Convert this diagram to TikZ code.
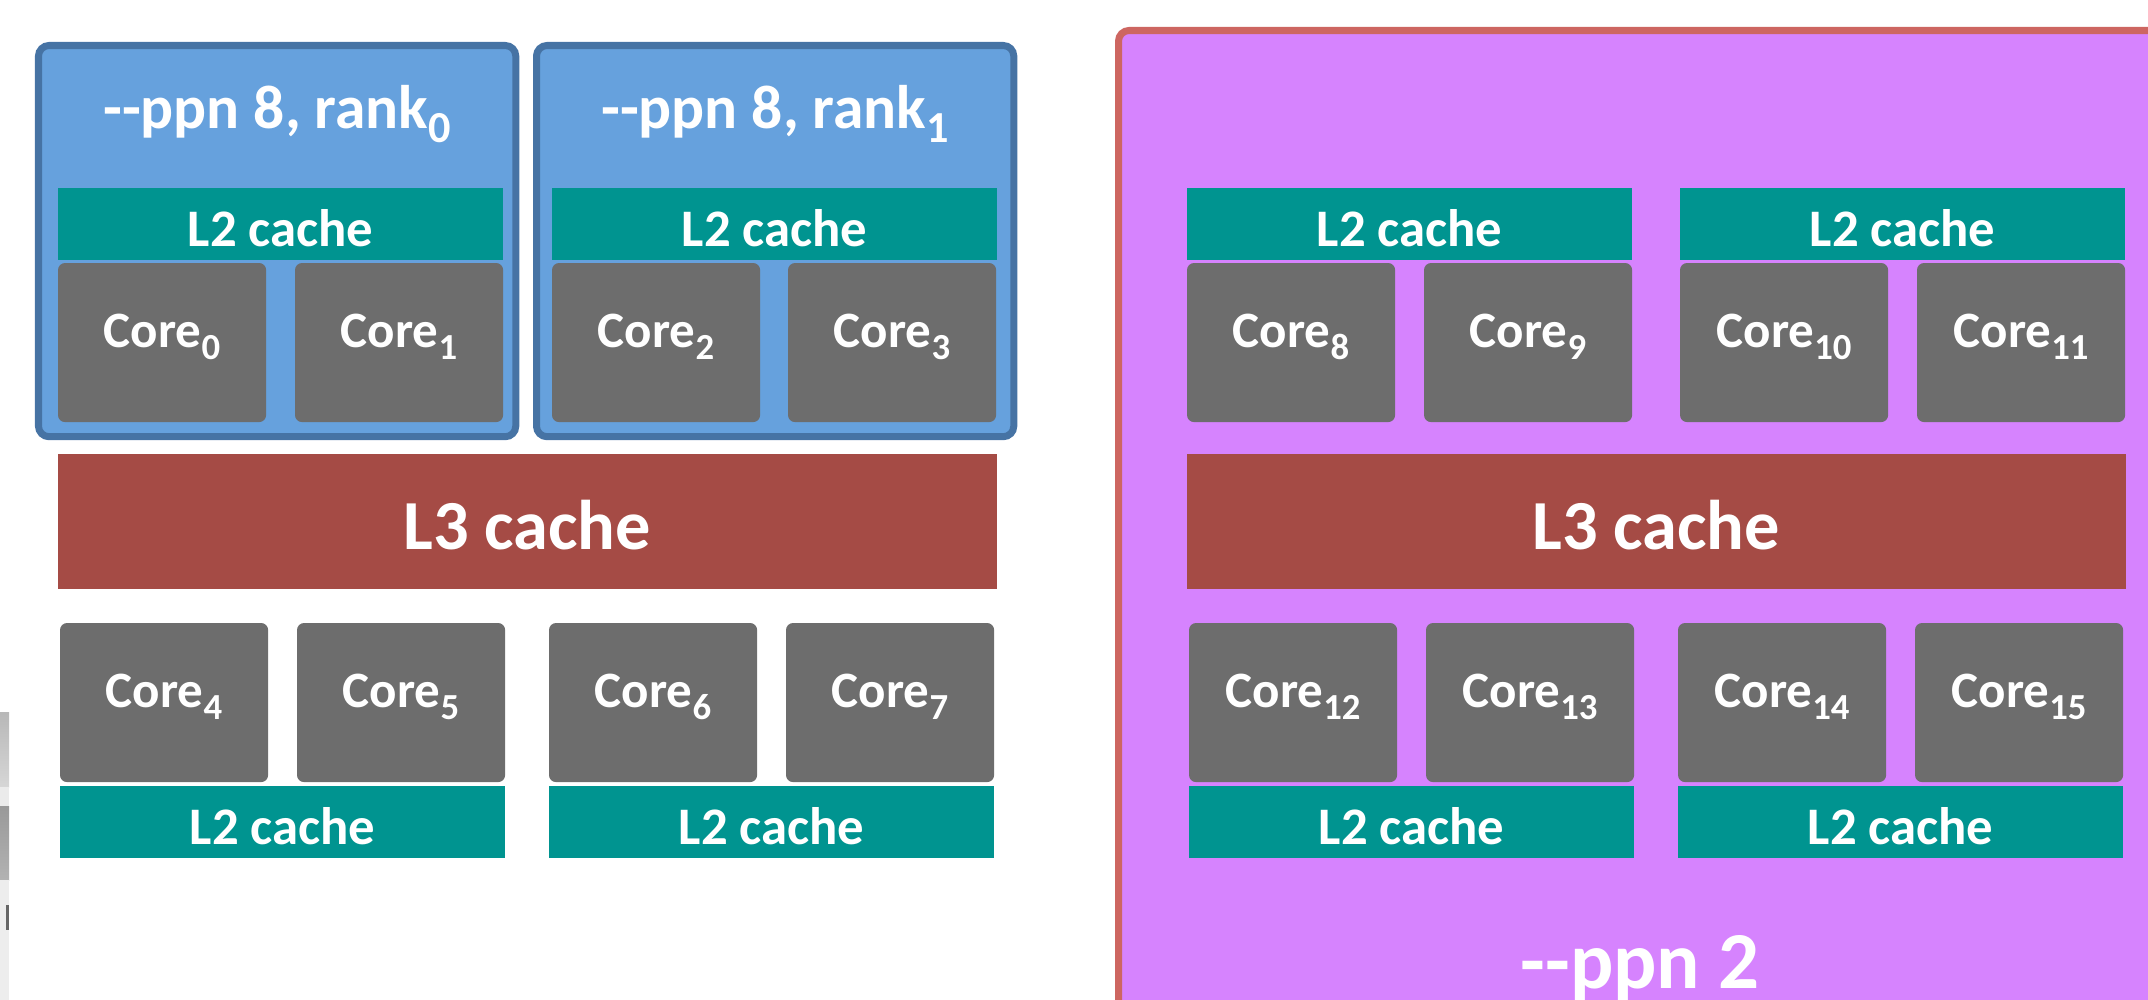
\documentclass[tikz,border=0pt]{standalone}
\usepackage{fontspec}
\setmainfont{Carlito}
\definecolor{rankblue}{HTML}{66A1DD}
\definecolor{rankedge}{HTML}{4673A4}
\definecolor{ltwoteal}{HTML}{009490}
\definecolor{coregray}{HTML}{6D6D6D}
\definecolor{lthreered}{HTML}{A54B45}
\definecolor{nodepurple}{HTML}{D683FE}
\definecolor{nodeedge}{HTML}{CD6661}
\newcommand{\ppndash}{-\kern0pt-}
\newcommand{\lowsub}[1]{\raisebox{-0.24em}{\scalebox{0.72}{#1}}}
\tikzset{
  box/.style={anchor=north west, inner sep=0pt, outer sep=0pt, text=white},
  corebox/.style={box, fill=coregray, rounded corners=2pt, minimum width=2.08cm, minimum height=1.59cm,
    text height=0.33cm, text depth=0.23cm, font=\bfseries\fontsize{14.5}{17}\selectfont},
  ltwobox/.style={box, fill=ltwoteal, minimum width=4.45cm, minimum height=0.72cm,
    text height=0.44cm, text depth=0cm, font=\bfseries\fontsize{15}{18}\selectfont},
  lthreebox/.style={box, fill=lthreered, minimum width=9.38cm, minimum height=1.35cm,
    text height=0.56cm, text depth=0cm, font=\bfseries\fontsize{20}{24}\selectfont},
  rankbox/.style={box, draw=rankedge, fill=rankblue, line width=0.07cm, rounded corners=3pt,
    minimum width=4.77cm, minimum height=3.91cm},
  titletext/.style={anchor=base, inner sep=0pt, text=white}
}
\begin{document}
\begin{tikzpicture}[x=0.01cm, y=-0.01cm]
    \useasboundingbox (0,0) rectangle (2148,1000);
    \clip (0,0) rectangle (2148,1000);

    % Photo fragment on the left edge
    \shade[top color=black!28, bottom color=black!16] (0,712) rectangle (9,787);
    \fill[black!8] (0,787) rectangle (9,806);
    \shade[top color=black!40, bottom color=black!30] (0,806) rectangle (9,880);
    \fill[black!7] (0,880) rectangle (9,1000);
    \fill[black!60] (6,905) rectangle (9,930);

    % Left socket: two ranks of --ppn 8
    \node[rankbox] (rank0) at (38.5,45.5) {};
    \node[rankbox] (rank1) at (536.5,45.5) {};
    \node[titletext, font=\bfseries\fontsize{17.5}{21}\selectfont] (title0) at (277,128) {\ppndash ppn 8, rank\lowsub{0}};
    \node[titletext, font=\bfseries\fontsize{17.5}{21}\selectfont] (title1) at (775,128) {\ppndash ppn 8, rank\lowsub{1}};

    \node[ltwobox] (ltwoA) at (58,188) {L2 cache};
    \node[ltwobox] (ltwoB) at (552,188) {L2 cache};
    \node[corebox] (core0) at (58,263) {Core\lowsub{0}};
    \node[corebox] (core1) at (295,263) {Core\lowsub{1}};
    \node[corebox] (core2) at (552,263) {Core\lowsub{2}};
    \node[corebox] (core3) at (788,263) {Core\lowsub{3}};

    \node[lthreebox] (lthreeL) at (58,454) {L3 cache};

    \node[corebox] (core4) at (60,623) {Core\lowsub{4}};
    \node[corebox] (core5) at (297,623) {Core\lowsub{5}};
    \node[corebox] (core6) at (549,623) {Core\lowsub{6}};
    \node[corebox] (core7) at (786,623) {Core\lowsub{7}};
    \node[ltwobox] (ltwoC) at (60,786) {L2 cache};
    \node[ltwobox] (ltwoD) at (549,786) {L2 cache};

    % Right socket: one rank of --ppn 2
    \draw[draw=nodeedge, fill=nodepurple, line width=0.07cm, rounded corners=3pt] (1118.5,30.5) rectangle (2170,1030);

    \node[ltwobox] (ltwoE) at (1187,188) {L2 cache};
    \node[ltwobox] (ltwoF) at (1680,188) {L2 cache};
    \node[corebox] (core8) at (1187,263) {Core\lowsub{8}};
    \node[corebox] (core9) at (1424,263) {Core\lowsub{9}};
    \node[corebox] (core10) at (1680,263) {Core\lowsub{10}};
    \node[corebox] (core11) at (1917,263) {Core\lowsub{11}};

    \node[lthreebox] (lthreeR) at (1187,454) {L3 cache};

    \node[corebox] (core12) at (1189,623) {Core\lowsub{12}};
    \node[corebox] (core13) at (1426,623) {Core\lowsub{13}};
    \node[corebox] (core14) at (1678,623) {Core\lowsub{14}};
    \node[corebox] (core15) at (1915,623) {Core\lowsub{15}};
    \node[ltwobox] (ltwoG) at (1189,786) {L2 cache};
    \node[ltwobox] (ltwoH) at (1678,786) {L2 cache};

    \node[titletext, font=\bfseries\fontsize{23}{27}\selectfont] (title2) at (1640,988) {\ppndash ppn 2};
\end{tikzpicture}
\end{document}
